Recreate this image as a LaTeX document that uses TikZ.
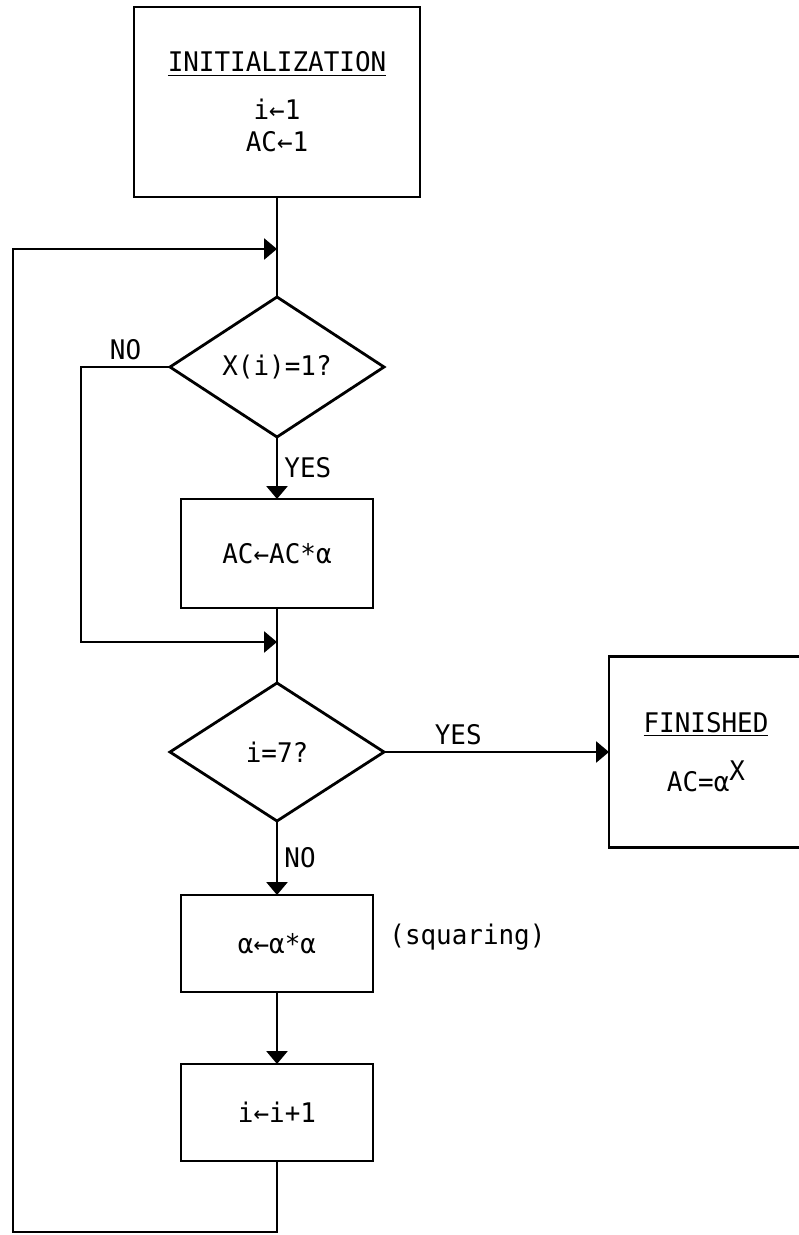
\documentclass[tikz,border=0pt]{standalone}
\usepackage{fontspec}
\setmainfont{DejaVu Sans Mono}[FakeStretch=0.96]
\usetikzlibrary{arrows.meta,positioning,shapes.geometric}

\begin{document}
\begin{tikzpicture}[>={Triangle[length=6.5pt,width=10.5pt]},line width=1.4pt,font=\fontsize{13.5}{16}\selectfont]
  \tikzstyle{box}=[draw,minimum width=96pt,minimum height=48.5pt,inner sep=2pt,outer sep=0pt,align=center]
  \tikzstyle{test}=[draw,diamond,aspect=1.5,minimum width=107pt,minimum height=70pt,inner sep=0pt,outer sep=0pt]
  \tikzstyle{lbl}=[inner sep=3pt]
  \useasboundingbox (0,0) rectangle (399pt,-617.5pt);
  \node[box,minimum width=143pt,minimum height=95pt] (init) at (138.5pt,-51pt) {\underline{INITIALIZATION}\\[8pt]i←1\\AC←1};
  \node[test,below=50pt of init] (iszero) {X(i)=1?};
  \node[box,minimum height=54.5pt,below=31pt of iszero] (mult) {AC←AC*α};
  \node[test,minimum height=69pt,below=37.5pt of mult] (islast) {i=7?};
  \node[box,below=37pt of islast] (square) {α←α*α};
  \node[box,below=36pt of square] (incr) {i←i+1};
  \node[box,minimum width=97pt,minimum height=95.5pt,right=112.5pt of islast] (done) {\underline{FINISHED}\\[11pt]AC=α\raisebox{5.5pt}{X}};
  \node[inner sep=0pt,right=7.5pt of square,yshift=3pt] (sqnote) {(squaring)};
  \coordinate[below=26pt of init] (loopin);
  \coordinate[below=17pt of mult] (merge);
  \draw (init) -- (iszero);
  \draw[->] (iszero) -- node[lbl,right] {YES} (mult);
  \draw[->] (iszero.west) -- node[lbl,above] {NO} ++(-44.5pt,0) |- (merge);
  \draw (mult) -- (islast);
  \draw[->] (islast.east) -- node[lbl,above,pos=0.33] {YES} (done.west);
  \draw[->] (islast) -- node[lbl,right] {NO} (square);
  \draw[->] (square) -- (incr);
  \draw[->] (incr.south) -- ++(0,-35.5pt) -- ++(-132pt,0) |- (loopin);
\end{tikzpicture}
\end{document}
